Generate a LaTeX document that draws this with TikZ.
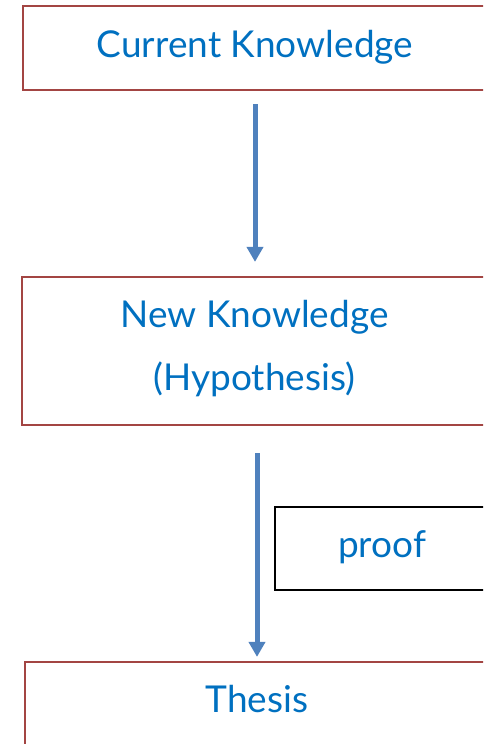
\documentclass[tikz,border=0pt]{standalone}
\usepackage{fontspec}
\setmainfont{Lato}
\usetikzlibrary{arrows.meta}
\definecolor{boxred}{HTML}{A34543}
\definecolor{txtblue}{HTML}{0070C0}
\definecolor{arrblue}{HTML}{4F81BD}
\tikzset{
  redbox/.style={draw=boxred, line width=2.2pt, rectangle, inner sep=0pt},
  blackbox/.style={draw=black, line width=2.2pt, rectangle, inner sep=0pt},
  lbl/.style={text=txtblue, font=\fontsize{37}{44}\selectfont, anchor=base, inner sep=0pt},
  flow/.style={draw=arrblue, line width=5pt, -{Triangle[length=15pt,width=16pt]}}
}
\begin{document}
\begin{tikzpicture}[x=1pt,y=-1pt]
\useasboundingbox (0,0) rectangle (483,744);
\clip (0,0) rectangle (483,744);
\node[redbox, minimum width=464pt, minimum height=84pt] (box1) at (255,48) {};
\node[redbox, minimum width=465pt, minimum height=148pt] (box2) at (254.5,351) {};
\node[blackbox, minimum width=214pt, minimum height=83pt] (proofbox) at (382,548.5) {};
\node[redbox, minimum width=464pt, minimum height=138pt] (box3) at (257,731) {};
\node[lbl] (t1) at (255,57) {Current Knowledge};
\node[lbl] (t2a) at (254.5,327) {New Knowledge};
\node[lbl] (t2b) at (254.5,390) {(Hypothesis)};
\node[lbl] (t3) at (382,557) {proof};
\node[lbl] (t4) at (257,712) {Thesis};
\draw[flow, shorten <=13pt, shorten >=14pt] (box1.south) -- (box1.south |- box2.north);
\draw[flow, shorten <=27pt, shorten >=4pt] (box2.south -| box3.north) -- (box3.north);
\end{tikzpicture}
\end{document}
